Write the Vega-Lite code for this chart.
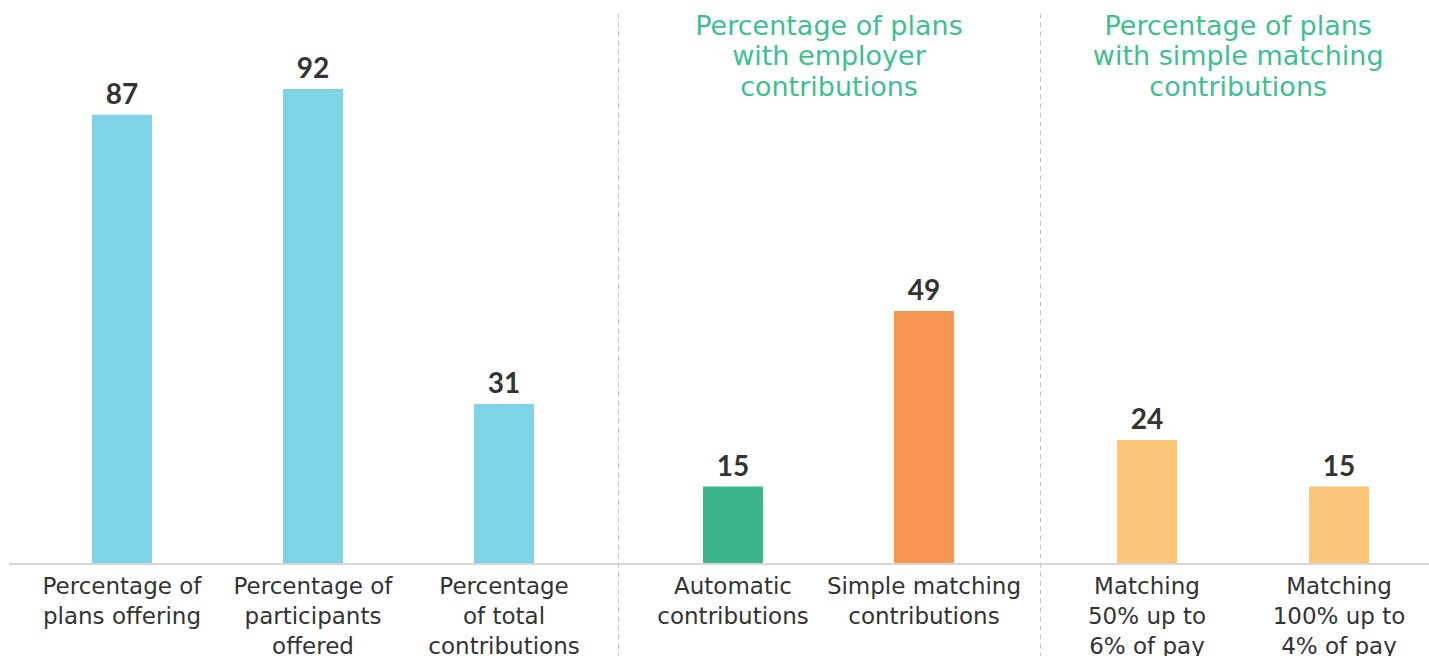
{
  "$schema": "https://vega.github.io/schema/vega-lite/v6.json",
  "padding": {"left": 8, "top": 12, "right": 0, "bottom": 0},
  "autosize": {"type": "pad"},
  "bounds": "flush",
  "spacing": 0,
  "background": "white",
  "config": {
    "view": {"stroke": null},
    "font": "DejaVu Sans",
    "axisX": {"orient": "bottom", "title": null, "domain": false, "ticks": false, "tickSize": 0, "labelAngle": 0, "labelFont": "DejaVu Sans", "labelFontSize": 23, "labelColor": "#333333", "labelLineHeight": 30, "labelBaseline": "alphabetic", "labelPadding": -64, "labelLimit": 0, "labelOverlap": false, "labelBound": false},
    "axisY": {"title": null, "labels": false, "ticks": false, "grid": false, "domain": true, "domainDash": [5, 4], "domainColor": "#c4c4c4", "domainWidth": 1}
  },
  "datasets": {
    "bars": [
      {"cat": "Percentage of|plans offering", "value": 87, "group": "A", "kind": "offer"},
      {"cat": "Percentage of|participants|offered", "value": 92, "group": "A", "kind": "offer"},
      {"cat": "Percentage|of total|contributions", "value": 31, "group": "A", "kind": "offer"},
      {"cat": "Automatic|contributions", "value": 15, "group": "B", "kind": "auto"},
      {"cat": "Simple matching|contributions", "value": 49, "group": "B", "kind": "simple"},
      {"cat": "Matching|50% up to|6% of pay", "value": 24, "group": "C", "kind": "match"},
      {"cat": "Matching|100% up to|4% of pay", "value": 15, "group": "C", "kind": "match"}
    ]
  },
  "resolve": {"scale": {"x": "independent", "y": "independent", "color": "shared"}},
  "hconcat": [
    {
      "width": 609,
      "height": 644,
      "data": {"name": "bars"},
      "transform": [{"filter": "datum.group === 'A'"}],
      "layer": [
        {
          "mark": {"type": "bar"},
          "encoding": {
            "x": {"field": "cat", "type": "nominal", "sort": null,
              "scale": {"paddingInner": 0.6859, "paddingOuter": 0.437, "align": 0.497},
              "axis": {"labelExpr": "split(datum.label, '|')"}},
            "y": {"field": "value", "type": "quantitative", "scale": {"domain": [-18, 106.7], "nice": false, "zero": false}, "axis": null},
            "color": {"field": "kind", "type": "nominal", "legend": null,
              "scale": {"domain": ["offer", "auto", "simple", "match"], "range": ["#7fd3e6", "#3bb58a", "#f79553", "#fbc57a"]}}
          }
        },
        {
          "mark": {"type": "text", "dy": -11, "baseline": "alphabetic", "font": "Lato", "fontSize": 28, "fontWeight": "bold", "color": "#333333"},
          "encoding": {
            "x": {"field": "cat", "type": "nominal", "sort": null},
            "y": {"field": "value", "type": "quantitative", "axis": null},
            "text": {"field": "value", "type": "quantitative"}
          }
        },
        {
          "data": {"values": [{}]},
          "mark": {"type": "rule", "color": "#d6d6d6", "strokeWidth": 2},
          "encoding": {"y": {"datum": 0}}
        }
      ]
    },
    {
      "width": 422,
      "height": 644,
      "data": {"name": "bars"},
      "transform": [{"filter": "datum.group === 'B'"}],
      "layer": [
        {
          "mark": {"type": "bar"},
          "encoding": {
            "x": {"field": "cat", "type": "nominal", "sort": null,
              "scale": {"paddingInner": 0.6859, "paddingOuter": 0.448, "align": 0.497},
              "axis": {"labelExpr": "split(datum.label, '|')"}},
            "y": {"field": "value", "type": "quantitative", "scale": {"domain": [-18, 106.7], "nice": false, "zero": false}},
            "color": {"field": "kind", "type": "nominal", "legend": null}
          }
        },
        {
          "mark": {"type": "text", "dy": -11, "baseline": "alphabetic", "font": "Lato", "fontSize": 28, "fontWeight": "bold", "color": "#333333"},
          "encoding": {
            "x": {"field": "cat", "type": "nominal", "sort": null},
            "y": {"field": "value", "type": "quantitative"},
            "text": {"field": "value", "type": "quantitative"}
          }
        },
        {
          "data": {"values": [{}]},
          "mark": {"type": "rule", "color": "#d6d6d6", "strokeWidth": 2},
          "encoding": {"y": {"datum": 0}}
        },
        {
          "data": {"values": [{"header": "Percentage of plans|with employer|contributions"}]},
          "mark": {"type": "text", "align": "center", "baseline": "alphabetic", "fontSize": 27, "lineHeight": 30.5, "lineBreak": "|", "color": "#3dbf8e"},
          "encoding": {
            "x": {"datum": "Automatic|contributions", "type": "nominal", "bandPosition": 2.1},
            "y": {"datum": 102.46, "type": "quantitative"},
            "text": {"field": "header", "type": "nominal"}
          }
        }
      ]
    },
    {
      "width": 390,
      "height": 644,
      "data": {"name": "bars"},
      "transform": [{"filter": "datum.group === 'C'"}],
      "layer": [
        {
          "mark": {"type": "bar"},
          "encoding": {
            "x": {"field": "cat", "type": "nominal", "sort": null,
              "scale": {"paddingInner": 0.6875, "paddingOuter": 0.359, "align": 0.558},
              "axis": {"labelExpr": "split(datum.label, '|')"}},
            "y": {"field": "value", "type": "quantitative", "scale": {"domain": [-18, 106.7], "nice": false, "zero": false}},
            "color": {"field": "kind", "type": "nominal", "legend": null}
          }
        },
        {
          "mark": {"type": "text", "dy": -11, "baseline": "alphabetic", "font": "Lato", "fontSize": 28, "fontWeight": "bold", "color": "#333333"},
          "encoding": {
            "x": {"field": "cat", "type": "nominal", "sort": null},
            "y": {"field": "value", "type": "quantitative"},
            "text": {"field": "value", "type": "quantitative"}
          }
        },
        {
          "data": {"values": [{}]},
          "mark": {"type": "rule", "color": "#d6d6d6", "strokeWidth": 2},
          "encoding": {"y": {"datum": 0}}
        },
        {
          "data": {"values": [{"header": "Percentage of plans|with simple matching|contributions"}]},
          "mark": {"type": "text", "align": "center", "baseline": "alphabetic", "fontSize": 27, "lineHeight": 30.5, "lineBreak": "|", "color": "#3dbf8e"},
          "encoding": {
            "x": {"datum": "Matching|50% up to|6% of pay", "type": "nominal", "bandPosition": 2.02},
            "y": {"datum": 102.46, "type": "quantitative"},
            "text": {"field": "header", "type": "nominal"}
          }
        }
      ]
    }
  ]
}
